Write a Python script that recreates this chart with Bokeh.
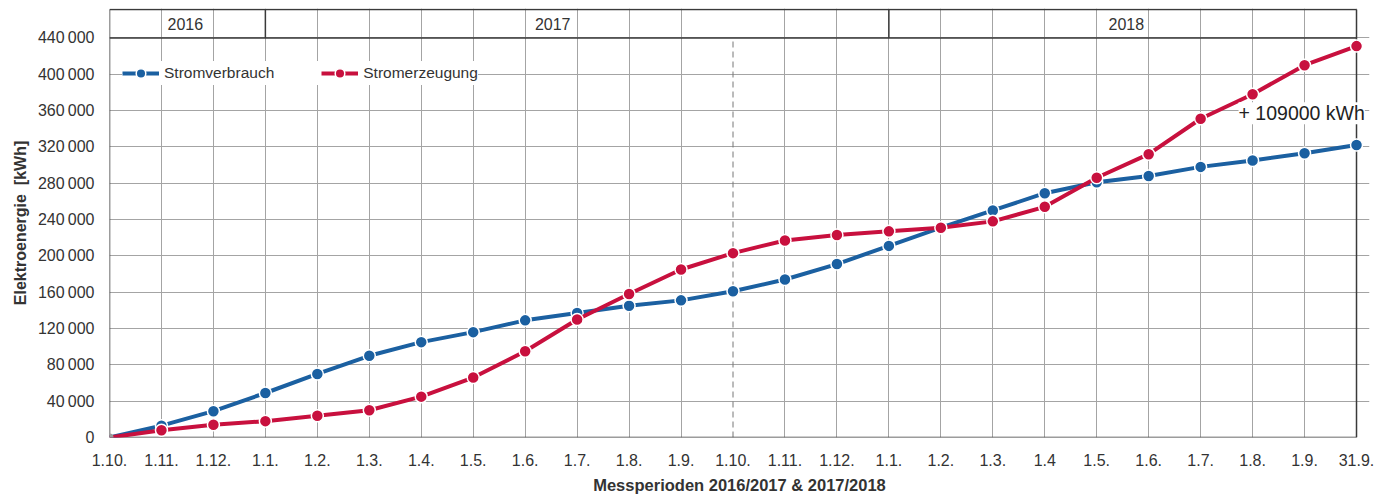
from bokeh.plotting import figure
from bokeh.models import Range1d, FixedTicker, Legend, LegendItem, Label
from bokeh.embed import file_html
from bokeh.resources import INLINE
from bokeh.core.properties import value

# Measuring periods (two seasons, Oct 2016 - Sep 2018)
periods = ["1.10.", "1.11.", "1.12.", "1.1.", "1.2.", "1.3.", "1.4.", "1.5.",
           "1.6.", "1.7.", "1.8.", "1.9.", "1.10.", "1.11.", "1.12.", "1.1.",
           "1.2.", "1.3.", "1.4", "1.5.", "1.6.", "1.7.", "1.8.", "1.9.", "31.9."]

# cumulative energy in kWh
stromverbrauch = [0, 13000, 29000, 49000, 70000, 90000, 105000, 116000,
                  129000, 137000, 145000, 151000, 161000, 174000, 191000, 211000,
                  231000, 250000, 269000, 281000, 288000, 298000, 305000, 313000, 322000]
stromerzeugung = [0, 8000, 14000, 18000, 24000, 30000, 45000, 66000,
                  95000, 130000, 158000, 185000, 203000, 217000, 223000, 227000,
                  231000, 238000, 254000, 286000, 312000, 351000, 378000, 410000, 431000]

years = ["2016", "2017", "2018"]
y_ticks = list(range(0, 440001, 40000))

FONT = "Liberation Sans"
TXT = "#333333"
BLUE = "#1b60a1"
RED = "#c8103e"
GRID = "#a4a4a4"
FRAME = "#3a3a3a"

y_top = y_ticks[-1]
band_top = 471300
xs = list(range(len(periods)))
last = xs[-1]

p = figure(width=1378, height=496, output_backend="svg", toolbar_location=None,
           x_range=Range1d(0, last + 0.25), y_range=Range1d(0, band_top + 1100),
           min_border_left=109, min_border_right=9, min_border_top=8, min_border_bottom=58)
p.outline_line_color = None
p.background_fill_color = "white"
p.border_fill_color = "white"

# grid
p.ygrid.ticker = FixedTicker(ticks=y_ticks)
p.ygrid.bounds = (0, last)
season_break = periods.index("1.10.", 1)
p.xgrid.ticker = FixedTicker(ticks=[i for i in xs if i != season_break])
p.xgrid.bounds = (0, y_top)
for g in (p.xgrid, p.ygrid):
    g.grid_line_color = GRID
    g.grid_line_width = 1

# axes
p.xaxis.ticker = FixedTicker(ticks=xs)
p.xaxis.major_label_overrides = {i: lab for i, lab in enumerate(periods)}
p.yaxis.ticker = FixedTicker(ticks=y_ticks)
p.yaxis.major_label_overrides = {v: ("0" if v == 0 else f"{v // 1000}\u2009000") for v in y_ticks}
for ax in (p.xaxis, p.yaxis):
    ax.axis_line_color = None
    ax.major_tick_line_color = None
    ax.minor_tick_line_color = None
    ax.major_label_text_font = FONT
    ax.major_label_text_font_size = "16px"
    ax.major_label_text_color = TXT
    ax.axis_label_text_font = FONT
    ax.axis_label_text_font_style = "bold"
    ax.axis_label_text_color = TXT
p.xaxis.major_label_standoff = 10
p.yaxis.major_label_standoff = 9
p.xaxis.axis_label = "Messperioden 2016/2017 & 2017/2018"
p.xaxis.axis_label_text_font_size = "16.5px"
p.xaxis.axis_label_standoff = 7
p.yaxis.axis_label = "Elektroenergie\u00a0 [kWh]"
p.yaxis.axis_label_text_font_size = "16px"
p.yaxis.axis_label_standoff = 6

# season divider
p.segment(x0=[season_break], y0=[0], x1=[season_break], y1=[y_top],
          line_color="#777777", line_width=1, line_dash="6 4")

# frame and year band
p.segment(x0=[0, last, 0, 0, 0], y0=[0, 0, 0, y_top, band_top],
          x1=[0, last, last, last, last], y1=[band_top, band_top, 0, y_top, band_top],
          line_color=FRAME, line_width=1.5)
year_starts = [i for i, lab in enumerate(periods) if lab == "1.1."]
p.segment(x0=year_starts, y0=[y_top] * len(year_starts), x1=year_starts,
          y1=[band_top] * len(year_starts), line_color=FRAME, line_width=1.5)
p.text(x=[1.46, 8.53, 19.57], y=[(y_top + band_top) / 2] * 3, text=years,
       text_font=value(FONT), text_font_size="16px", text_color=TXT,
       text_align="center", text_baseline="middle")

# series
lb = p.line(xs, stromverbrauch, line_color=BLUE, line_width=4)
sb = p.scatter(xs[1:], stromverbrauch[1:], size=12, fill_color=BLUE,
               line_color="white", line_width=1.5)
lr = p.line(xs, stromerzeugung, line_color=RED, line_width=4)
sr = p.scatter(xs[1:], stromerzeugung[1:], size=12, fill_color=RED,
               line_color="white", line_width=1.5)
p.scatter([0], [0], size=8, fill_color="#9a9a9a", line_color=None)

legend = Legend(items=[LegendItem(label="Stromverbrauch", renderers=[lb, sb]),
                       LegendItem(label="Stromerzeugung", renderers=[lr, sr])],
                orientation="horizontal", location=(13, 352), glyph_width=37,
                glyph_height=24, label_standoff=5, spacing=47, padding=5, margin=0,
                background_fill_color="white", background_fill_alpha=1.0,
                border_line_color=None, label_text_font=FONT,
                label_text_font_size="15.5px", label_text_color=TXT)
p.add_layout(legend)

# surplus of generation over consumption at the end of the period
surplus = stromerzeugung[-1] - stromverbrauch[-1]
p.add_layout(Label(x=21.73, y=357000, text=f"+ {surplus} kWh",
                   text_font=FONT, text_font_size="19.5px", text_color="#222222",
                   text_baseline="middle", background_fill_color="white",
                   background_fill_alpha=1.0))

open("out.html", "w").write(file_html(p, INLINE))
